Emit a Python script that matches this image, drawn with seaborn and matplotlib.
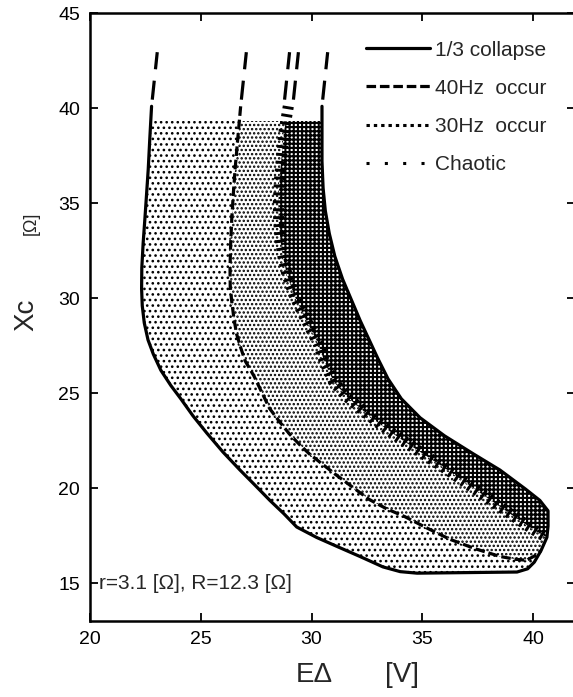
import numpy as np
import pandas as pd
import matplotlib
matplotlib.use("Agg")
import matplotlib.pyplot as plt
from matplotlib.lines import Line2D
from matplotlib.patches import Rectangle
import seaborn as sns

# ---------------- data ----------------
# outer boundary of the "1/3 collapse" region (left side -> bottom -> right side)
outer_x = [22.78, 22.7, 22.63, 22.55, 22.48, 22.4, 22.34, 22.33, 22.36, 22.45,
           22.62, 22.86, 23.2, 23.65, 24.1, 24.65, 25.27, 26.0, 26.77, 27.45,
           28.12, 28.75, 29.33, 30.23, 31.2, 32.18, 33.22, 34.0, 34.76, 37.0,
           39.27, 39.75, 40.05, 40.35, 40.62, 40.67,
           40.67, 40.3, 39.65, 38.5, 37.3, 36.0, 34.9, 34.05, 33.45, 33.0,
           32.6, 32.2, 31.8, 31.4, 31.05, 30.8, 30.62, 30.52, 30.47, 30.47]
outer_y = [40.1, 38.4, 36.8, 35.4, 34.2, 32.9, 31.6, 30.5, 29.6, 28.7,
           27.8, 27.05, 26.2, 25.4, 24.7, 23.8, 22.9, 21.9, 20.95, 20.15,
           19.35, 18.65, 17.95, 17.4, 16.9, 16.4, 15.85, 15.6, 15.52, 15.55,
           15.58, 15.75, 16.1, 16.7, 17.41, 18.0,
           18.8, 19.35, 19.95, 20.95, 21.8, 22.75, 23.7, 24.7, 25.75, 26.8,
           27.8, 28.8, 29.9, 31.0, 32.2, 33.4, 34.6, 35.8, 37.2, 40.1]
J1 = 33   # index where the 40Hz line meets the outer boundary
J2 = 34   # index where the 30Hz band meets the outer boundary

# 40Hz occur boundary (dashed)
hz40_x = [26.8, 26.67, 26.55, 26.47, 26.4, 26.35, 26.32, 26.33, 26.4, 26.5,
          26.62, 26.8, 27.0, 27.4, 27.75, 28.1, 28.55, 29.0, 29.45, 29.9,
          30.5, 31.1, 31.85, 32.6, 33.4, 34.2, 35.2, 36.25, 37.4, 38.5,
          39.2, 39.7, 40.1, 40.35]
hz40_y = [40.1, 38.4, 36.8, 35.5, 34.2, 32.9, 31.6, 30.6, 29.8, 28.9,
          28.1, 27.4, 26.7, 25.9, 25.05, 24.2, 23.5, 22.85, 22.3, 21.8,
          21.25, 20.7, 20.05, 19.4, 18.9, 18.5, 17.9, 17.3, 16.8, 16.4,
          16.25, 16.2, 16.45, 16.7]

# 30Hz occur boundary (hatched band)
hz30_x = [28.95, 28.75, 28.65, 28.55, 28.5, 28.52, 28.6, 28.72, 28.9, 29.2,
          29.6, 29.95, 30.3, 30.6, 31.0, 31.6, 32.3, 33.1, 34.0, 35.1,
          36.2, 37.3, 38.4, 39.2, 39.9, 40.3, 40.62]
hz30_y = [40.1, 38.7, 37.5, 36.2, 35.0, 34.0, 33.0, 32.1, 31.2, 30.2,
          29.2, 28.4, 27.6, 26.6, 25.6, 24.8, 24.1, 23.35, 22.6, 21.75,
          20.9, 20.0, 19.1, 18.45, 17.9, 17.6, 17.41]

shade_top = 39.35          # shading stops here
ext_y0 = [40.45, 42.05]    # broken continuation marks above the curves
ext_y1 = [41.45, 42.95]

x_ticks = [20, 25, 30, 35, 40]
y_ticks = [15, 20, 25, 30, 35, 40, 45]
legend_labels = ["1/3 collapse", "40Hz  occur", "30Hz  occur", "Chaotic"]
note = "r=3.1 [\u03a9], R=12.3 [\u03a9]"

# ---------------- style ----------------
sns.set_theme(style="ticks")
plt.rcParams["font.family"] = ["Liberation Sans", "DejaVu Sans"]
plt.rcParams["hatch.color"] = "black"

fig = plt.figure(figsize=(5.73, 6.97), dpi=100)
ax = fig.add_axes([0.157, 0.109, 0.847, 0.872])
ax.set_xlim(20, 41.9)
ax.set_ylim(13, 45)

ox, oy = np.array(outer_x), np.array(outer_y)
dx, dy = np.array(hz40_x), np.array(hz40_y)
hx, hy = np.array(hz30_x), np.array(hz30_y)

clip = Rectangle((0, 0), 100, shade_top, transform=ax.transData)

# region A: left boundary -> 40Hz line (sparse dots)
polyA_x = np.concatenate([ox[:J1 + 1], dx[::-1]])
polyA_y = np.concatenate([oy[:J1 + 1], dy[::-1]])
# region B: 40Hz line -> 30Hz band (dense dots)
polyB_x = np.concatenate([dx, ox[J1:J2 + 1], hx[::-1]])
polyB_y = np.concatenate([dy, oy[J1:J2 + 1], hy[::-1]])
# region C: 30Hz band -> right boundary (cross-hatch)
polyC_x = np.concatenate([hx, ox[J2:]])
polyC_y = np.concatenate([hy, oy[J2:]])

for px, py, hatch, hlw in [(polyA_x, polyA_y, "...", 1.1),
                           (polyB_x, polyB_y, "....", 1.15),
                           (polyC_x, polyC_y, "++++", 1.5)]:
    with plt.rc_context({"hatch.linewidth": hlw}):
        patches = ax.fill(px, py, facecolor="white", edgecolor="black",
                          linewidth=0, hatch=hatch, zorder=1)
    for p in patches:
        if hasattr(p, "set_hatch_linewidth"):
            p.set_hatch_linewidth(hlw)
        p.set_clip_path(clip)

# lines
df_outer = pd.DataFrame({"x": outer_x, "y": outer_y})
df_40 = pd.DataFrame({"x": hz40_x, "y": hz40_y})
df_30 = pd.DataFrame({"x": hz30_x, "y": hz30_y})

sns.lineplot(data=df_30, x="x", y="y", sort=False, estimator=None, ax=ax,
             color="black", lw=8, zorder=3)
band = ax.lines[-1]
band.set_dashes([0.26, 0.45])
band.set_dash_capstyle("butt")

sns.lineplot(data=df_40, x="x", y="y", sort=False, estimator=None, ax=ax,
             color="black", lw=2.3, zorder=4)
ax.lines[-1].set_dashes([3.0, 1.2])

sns.lineplot(data=df_outer, x="x", y="y", sort=False, estimator=None, ax=ax,
             color="black", lw=2.3, zorder=4)

# broken continuation marks above the curves
tops = [outer_x[0], hz40_x[0], hz30_x[0] - 0.2, hz30_x[0] + 0.2, outer_x[-1]]
for xt in tops:
    for a, b in zip(ext_y0, ext_y1):
        xa = xt + 0.09 * (a - outer_y[0])
        xb = xt + 0.09 * (b - outer_y[0])
        ax.plot([xa, xb], [a, b], color="black", lw=2.3,
                solid_capstyle="butt", zorder=4)

# axes styling
ax.set_xticks(x_ticks)
ax.set_yticks(y_ticks)
ax.tick_params(direction="in", length=6, width=1.3, labelsize=14, pad=7,
               top=True, right=True, colors="black")
for s in ax.spines.values():
    s.set_linewidth(1.8)
    s.set_color("black")
ax.spines["right"].set_visible(False)

ax.set_xlabel("E\u0394", fontsize=20)
ax.xaxis.set_label_coords(0.463, -0.068)
ax.text(0.642, -0.068, "[V]", transform=ax.transAxes, fontsize=20,
        ha="center", va="top")
ax.set_ylabel("Xc", fontsize=20)
ax.yaxis.set_label_coords(-0.105, 0.503)
ax.text(-0.12, 0.655, "[\u03a9]", transform=ax.transAxes, fontsize=13,
        rotation=90, ha="center", va="center")

ax.text(20.4, 15.0, note, fontsize=15, ha="left", va="center")

handles = [
    Line2D([], [], color="black", lw=2.3),
    Line2D([], [], color="black", lw=2.3, dashes=[3.0, 1.2]),
    Line2D([], [], color="black", lw=2.2, dashes=[1.1, 1.3]),
    Line2D([], [], color="black", lw=2.2, dashes=[1.0, 5.0]),
]
ax.legend(handles, legend_labels, loc="upper left",
          bbox_to_anchor=(0.568, 0.955), frameon=False, fontsize=15,
          handlelength=3.1, handletextpad=0.22, labelspacing=0.92,
          borderpad=0, borderaxespad=0)

fig.savefig("out.png", dpi=100)
